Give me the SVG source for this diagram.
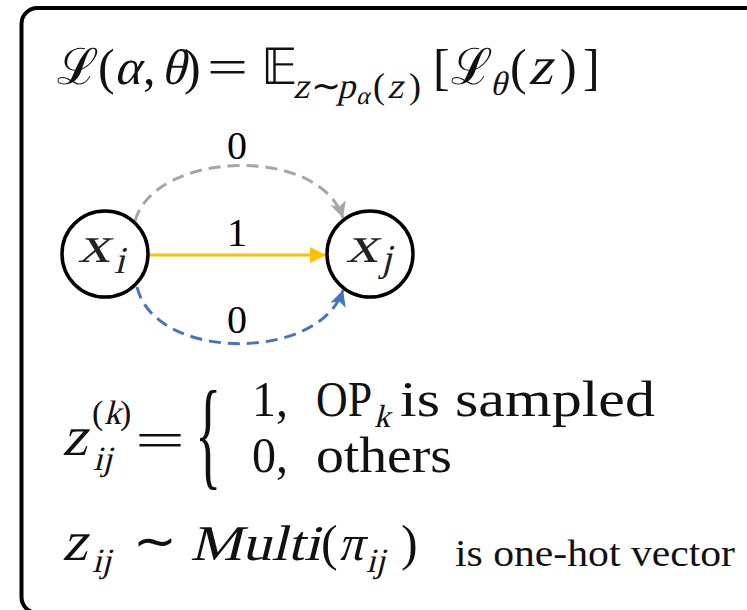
<svg xmlns="http://www.w3.org/2000/svg" width="747" height="610" viewBox="0 0 747 610">
<style>
text{font-family:"Liberation Serif","Times New Roman",serif;fill:#111}
.lbl{font-size:40px;fill:#000;text-anchor:middle}
.node circle{fill:#fff;stroke:#000;stroke-width:3.5}
.node text{fill:#222}
</style>
<defs>
<marker id="ay" markerUnits="userSpaceOnUse" markerWidth="20" markerHeight="20" refX="16" refY="8" orient="auto"><path d="M0,0 L16,8 L0,16 Z" fill="#FFC000"/></marker>
<marker id="ag" markerUnits="userSpaceOnUse" markerWidth="20" markerHeight="20" refX="16" refY="8" orient="auto"><path d="M0,0 L16,8 L0,16 L4,8 Z" fill="#A6A6A6"/></marker>
<marker id="ab" markerUnits="userSpaceOnUse" markerWidth="20" markerHeight="20" refX="16" refY="8" orient="auto"><path d="M0,0 L16,8 L0,16 L4,8 Z" fill="#4472C4"/></marker>
</defs>
<rect x="0" y="0" width="747" height="610" fill="#fff"/>
<rect x="21.5" y="8" width="760" height="605" rx="16" fill="none" stroke="#000" stroke-width="4"/>

<g id="formula-loss">
<text x="57" y="84" font-size="50">ℒ</text>
<text x="98" y="84" font-size="50">(</text>
<text transform="translate(114,84) skewX(-14)" font-size="50">α</text>
<text x="143" y="84" font-size="50">,</text>
<text transform="translate(161,84) skewX(-14)" font-size="50">θ</text>
<text x="184" y="84" font-size="50">)</text>
<text x="207" y="84" font-size="50" textLength="41" lengthAdjust="spacingAndGlyphs">=</text>
<text x="261" y="84" font-size="50">𝔼</text>
<text transform="translate(293,98) skewX(-14)" font-size="36">z</text>
<text x="311" y="98" font-size="36">∼</text>
<text transform="translate(337,98) skewX(-14)" font-size="36">p</text>
<text transform="translate(356,104) skewX(-14)" font-size="25">α</text>
<text x="373" y="98" font-size="36">(</text>
<text transform="translate(387,98) skewX(-14)" font-size="36">z</text>
<text x="409" y="98" font-size="36">)</text>
<text x="433" y="84" font-size="50">[</text>
<text x="451" y="84" font-size="50">ℒ</text>
<text transform="translate(490,95) skewX(-14)" font-size="34">θ</text>
<text x="510" y="84" font-size="50">(</text>
<text transform="translate(528,84) skewX(-14)" font-size="54">z</text>
<text x="560" y="84" font-size="50">)</text>
<text x="583" y="84" font-size="50">]</text>
</g>

<g id="connectors">
<path d="M135,221 C155,150 320,145 343,218" fill="none" stroke="#A6A6A6" stroke-width="3" stroke-dasharray="12 7" marker-end="url(#ag)"/>
<path d="M148,255 L326,255" fill="none" stroke="#FFC000" stroke-width="3" marker-end="url(#ay)"/>
<path d="M137,287 C155,362 320,362 343,290" fill="none" stroke="#4472C4" stroke-width="3" stroke-dasharray="12 7" marker-end="url(#ab)"/>
<text class="lbl" x="237" y="159">0</text>
<text class="lbl" x="237" y="246">1</text>
<text class="lbl" x="237" y="333">0</text>
</g>

<g id="node-xi" class="node">
<circle cx="105" cy="254" r="43"/>
<text transform="translate(78,262) skewX(-14)" font-size="52" textLength="32" lengthAdjust="spacingAndGlyphs">x</text>
<text transform="translate(114,273) skewX(-14)" font-size="38">i</text>
</g>
<g id="node-xj" class="node">
<circle cx="370" cy="254" r="43"/>
<text transform="translate(346,262) skewX(-14)" font-size="52" textLength="32" lengthAdjust="spacingAndGlyphs">x</text>
<text transform="translate(381,271) skewX(-14)" font-size="38">j</text>
</g>

<g id="formula-z">
<text transform="translate(62,455) skewX(-14)" font-size="56">z</text>
<text x="92" y="424" font-size="34">(</text>
<text transform="translate(104,424) skewX(-14)" font-size="34">k</text>
<text x="120" y="424" font-size="34">)</text>
<text transform="translate(93,470) skewX(-14)" font-size="34">ij</text>
<text x="135" y="457" font-size="50" textLength="50" lengthAdjust="spacingAndGlyphs">=</text>
<text x="0" y="0" font-size="100" transform="translate(195,474) scale(0.55,1.2)">{</text>
<text x="252" y="416" font-size="50" textLength="36" lengthAdjust="spacingAndGlyphs">1,</text>
<text x="316" y="416" font-size="50" textLength="56" lengthAdjust="spacingAndGlyphs">OP</text>
<text transform="translate(374,427) skewX(-14)" font-size="32">k</text>
<text x="400" y="416" font-size="50" textLength="255" lengthAdjust="spacingAndGlyphs">is sampled</text>
<text x="252" y="472" font-size="50" textLength="36" lengthAdjust="spacingAndGlyphs">0,</text>
<text x="316" y="472" font-size="50" textLength="136" lengthAdjust="spacingAndGlyphs">others</text>
</g>

<g id="formula-multi">
<text transform="translate(62,560) skewX(-14)" font-size="56">z</text>
<text transform="translate(92,572) skewX(-14)" font-size="34">ij</text>
<text x="133" y="558" font-size="50" textLength="44" lengthAdjust="spacingAndGlyphs">∼</text>
<text transform="translate(190,560) skewX(-14)" font-size="50" textLength="130" lengthAdjust="spacingAndGlyphs">Multi</text>
<text x="321" y="560" font-size="50">(</text>
<text transform="translate(338,560) skewX(-14)" font-size="50">π</text>
<text transform="translate(366,572) skewX(-14)" font-size="34">ij</text>
<text x="401" y="560" font-size="50">)</text>
<text x="455" y="566" font-size="38" textLength="280" lengthAdjust="spacingAndGlyphs">is one-hot vector</text>
</g>
</svg>
